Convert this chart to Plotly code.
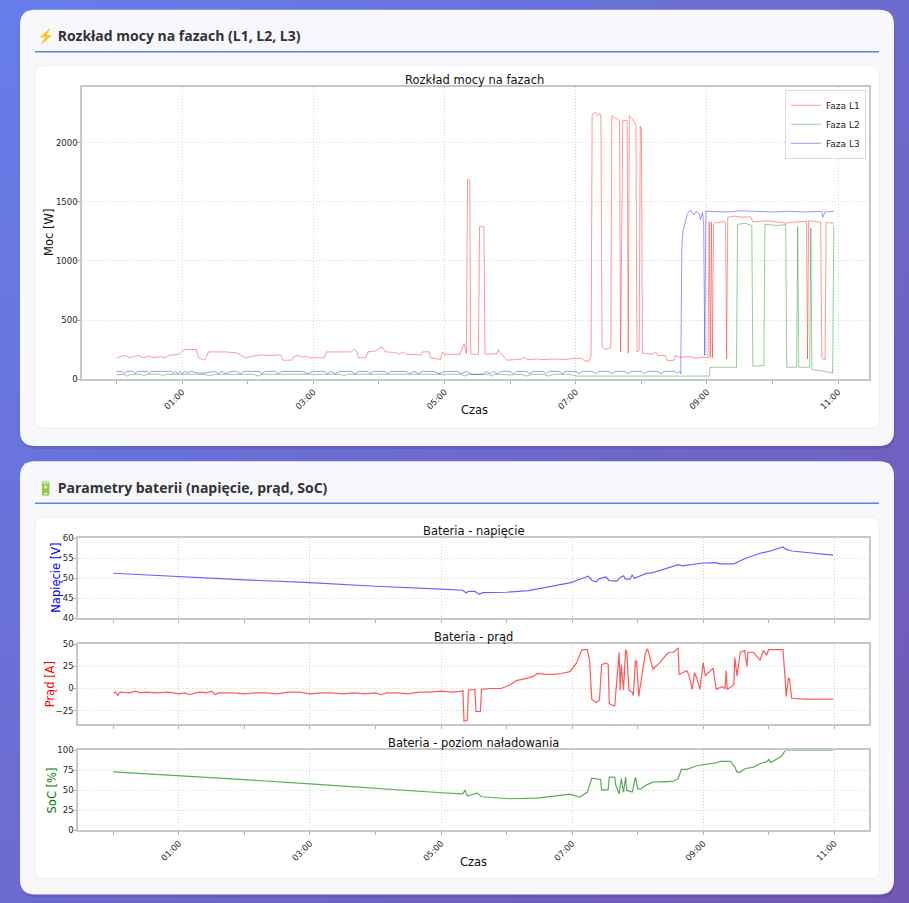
import plotly.graph_objects as go

W, H = 909, 903
DAY = "2024-01-01 "

# --- phase power (W) ---
l1_time = ["00:00", "00:08", "00:12", "00:20", "00:24", "00:30", "00:34", "00:40", "00:44", "00:48",
           "00:57", "01:02", "01:13", "01:15", "01:20", "01:22", "01:24", "01:40", "01:50", "01:58",
           "02:11", "02:20", "02:30", "02:32", "02:40", "02:42", "02:46", "02:50", "02:54", "02:56",
           "03:10", "03:12", "03:35", "03:37", "03:40", "03:41", "03:48", "03:50", "03:58", "04:00",
           "04:03", "04:06", "04:15", "04:18", "04:22", "04:25", "04:38", "04:40", "04:46", "04:47",
           "04:54", "04:56", "04:58", "05:00", "05:14", "05:16", "05:18", "05:20", "05:21", "05:23",
           "05:24", "05:31", "05:32", "05:36", "05:37", "05:48", "05:49", "05:52", "05:57", "06:05",
           "06:10", "06:13", "06:16", "06:25", "06:30", "06:40", "06:50", "06:58", "07:05", "07:08",
           "07:12", "07:14", "07:15", "07:18", "07:20", "07:22", "07:23", "07:24", "07:27", "07:30",
           "07:32", "07:33", "07:36", "07:39", "07:40", "07:41", "07:43", "07:47", "07:48", "07:49",
           "07:52", "07:55", "07:56", "07:58", "07:59", "08:00", "08:01", "08:10", "08:13", "08:15",
           "08:22", "08:24", "08:30", "08:31", "08:35", "08:45", "08:50", "08:55", "09:01", "09:02",
           "09:03", "09:04", "09:05", "09:06", "09:08", "09:10", "09:15", "09:17", "09:18", "09:19",
           "09:25", "09:32", "09:40", "09:42", "09:55", "10:05", "10:13", "10:20", "10:31", "10:32",
           "10:33", "10:44", "10:45", "10:48", "10:49", "10:56"]
l1_power = [180, 200, 180, 200, 180, 195, 180, 190, 180, 200,
            210, 250, 250, 180, 160, 185, 230, 230, 220, 180,
            205, 200, 205, 160, 160, 190, 200, 185, 195, 180,
            180, 230, 230, 250, 230, 180, 180, 230, 240, 260,
            270, 230, 225, 210, 230, 210, 205, 230, 230, 180,
            170, 160, 230, 210, 210, 250, 300, 215, 1690, 1680,
            210, 210, 1290, 1290, 210, 215, 250, 210, 160, 165,
            170, 185, 165, 170, 165, 170, 165, 175, 175, 155,
            150, 200, 2240, 2260, 2230, 2250, 2220, 270, 250, 260,
            270, 2230, 2210, 2200, 2180, 230, 2190, 2190, 220, 2230,
            2200, 2150, 230, 240, 2140, 2120, 220, 210, 230, 200,
            200, 155, 160, 200, 185, 190, 175, 185, 180, 1330,
            180, 1330, 180, 1310, 1330, 1320, 1335, 1330, 170, 1370,
            1380, 1370, 1375, 1330, 1340, 1330, 1320, 1330, 1335, 170,
            1340, 1330, 180, 160, 1325, 1320]

l2_time = ["00:00", "00:06", "00:10", "00:13", "00:22", "00:25", "00:28", "00:40", "00:42", "00:45",
           "01:20", "01:25", "01:30", "02:05", "02:10", "02:13", "02:40", "03:00", "03:25", "03:28",
           "03:31", "04:30", "05:15", "05:18", "05:22", "05:40", "05:43", "05:46", "06:00", "06:10",
           "06:15", "06:20", "06:30", "06:35", "06:40", "06:55", "07:00", "08:00", "09:02", "09:03",
           "09:27", "09:28", "09:35", "09:41", "09:42", "09:52", "09:53", "10:05", "10:12", "10:13",
           "10:22", "10:23", "10:24", "10:34", "10:35", "10:36", "10:45", "10:55", "10:56"]
l2_power = [35, 40, 25, 40, 40, 25, 40, 40, 25, 40,
            40, 30, 40, 40, 25, 40, 40, 40, 40, 25,
            40, 40, 40, 25, 40, 40, 25, 40, 35, 40,
            25, 40, 40, 25, 40, 40, 25, 25, 25, 100,
            100, 1310, 1320, 1300, 110, 115, 1310, 1300, 1310, 100,
            100, 1290, 100, 100, 1280, 80, 70, 50, 1300]

l3_time = ["00:00", "00:05", "00:07", "00:09", "00:15", "00:17", "00:19", "00:28", "00:30", "00:32",
           "00:50", "00:52", "00:54", "00:56", "00:58", "01:00", "01:03", "01:05", "01:08", "01:15",
           "01:20", "01:30", "01:33", "01:36", "01:40", "01:44", "01:50", "01:53", "01:56", "02:10",
           "02:13", "02:16", "02:25", "02:28", "02:31", "02:50", "02:55", "02:59", "03:10", "03:13",
           "03:16", "03:20", "03:24", "03:35", "03:38", "03:42", "03:50", "03:52", "03:55", "04:05",
           "04:08", "04:11", "04:25", "04:28", "04:32", "04:36", "04:40", "04:50", "04:55", "05:00",
           "05:12", "05:15", "05:20", "05:25", "05:35", "05:38", "05:42", "05:45", "05:48", "05:52",
           "06:00", "06:03", "06:06", "06:15", "06:18", "06:21", "06:30", "06:33", "06:36", "06:45",
           "06:48", "06:51", "07:00", "07:03", "07:06", "07:15", "07:18", "07:21", "07:30", "07:33",
           "07:36", "07:45", "07:48", "07:51", "08:00", "08:03", "08:06", "08:15", "08:18", "08:21",
           "08:30", "08:33", "08:35", "08:36", "08:37", "08:38", "08:40", "08:42", "08:45", "08:48",
           "08:50", "08:53", "08:54", "08:56", "08:57", "08:58", "08:59", "09:10", "09:20", "09:30",
           "09:45", "10:00", "10:15", "10:30", "10:45", "10:46", "10:48", "10:56"]
l3_power = [65, 65, 45, 65, 65, 45, 65, 65, 45, 65,
            65, 45, 65, 45, 65, 45, 65, 50, 65, 50,
            50, 65, 45, 65, 45, 65, 65, 45, 65, 65,
            45, 65, 65, 45, 65, 65, 45, 65, 65, 45,
            65, 45, 65, 65, 45, 65, 65, 45, 65, 65,
            45, 65, 65, 45, 65, 45, 65, 65, 45, 65,
            65, 45, 65, 40, 40, 65, 45, 65, 45, 65,
            65, 45, 65, 65, 45, 65, 65, 45, 65, 65,
            45, 65, 65, 45, 65, 65, 45, 65, 65, 45,
            65, 65, 45, 65, 65, 45, 65, 65, 45, 65,
            65, 50, 65, 45, 1100, 1250, 1320, 1400, 1430, 1390,
            1420, 1400, 1350, 1410, 1300, 200, 1420, 1420, 1415, 1425,
            1420, 1415, 1420, 1415, 1420, 1370, 1415, 1420]

# --- battery ---
volt_time = ["00:00", "01:00", "02:00", "03:00", "04:00", "05:00", "05:20", "05:23", "05:25", "05:31",
             "05:35", "05:38", "06:00", "06:20", "06:37", "06:59", "07:07", "07:15", "07:18", "07:22",
             "07:25", "07:31", "07:34", "07:41", "07:44", "07:47", "07:49", "07:53", "07:55", "07:57",
             "08:08", "08:14", "08:20", "08:37", "08:41", "08:46", "09:00", "09:12", "09:15", "09:28",
             "09:34", "09:39", "09:52", "10:01", "10:13", "10:16", "10:21", "10:59"]
volt_value = [51.25, 50.4, 49.6, 48.9, 48.0, 47.3, 47.0, 46.3, 46.75, 46.7,
              46.0, 46.4, 46.5, 46.9, 47.8, 48.9, 49.75, 50.5, 49.5, 49.1,
              49.9, 50.3, 49.4, 49.3, 50.2, 50.6, 49.8, 49.8, 50.8, 50.0,
              51.2, 51.4, 51.9, 53.4, 53.1, 53.3, 53.8, 53.9, 53.6, 53.6,
              54.3, 55.0, 56.25, 56.75, 57.8, 57.2, 56.8, 55.75]

curr_time = ["00:00", "00:02", "00:04", "00:06", "00:15", "00:20", "00:25", "00:30", "00:40", "00:50",
             "01:00", "01:05", "01:10", "01:15", "01:20", "01:25", "01:30", "01:33", "01:36", "01:50",
             "02:00", "02:10", "02:20", "02:30", "02:40", "02:50", "03:00", "03:10", "03:20", "03:30",
             "03:40", "03:50", "04:00", "04:05", "04:10", "04:20", "04:30", "04:40", "04:50", "05:00",
             "05:10", "05:19", "05:20", "05:21", "05:24", "05:25", "05:31", "05:32", "05:36", "05:37",
             "05:45", "05:55", "06:03", "06:09", "06:20", "06:25", "06:28", "06:35", "06:43", "06:50",
             "06:58", "07:04", "07:09", "07:14", "07:16", "07:18", "07:22", "07:25", "07:27", "07:31",
             "07:33", "07:34", "07:39", "07:40", "07:43", "07:44", "07:45", "07:47", "07:49", "07:50",
             "07:52", "07:55", "07:56", "07:58", "07:59", "08:01", "08:05", "08:07", "08:09", "08:13",
             "08:14", "08:20", "08:26", "08:29", "08:33", "08:37", "08:38", "08:45", "08:47", "08:50",
             "08:52", "08:54", "08:57", "09:00", "09:02", "09:04", "09:09", "09:12", "09:17", "09:20",
             "09:21", "09:22", "09:28", "09:29", "09:31", "09:34", "09:38", "09:40", "09:41", "09:46",
             "09:52", "09:55", "09:58", "10:00", "10:13", "10:15", "10:16", "10:18", "10:19", "10:21",
             "10:32", "10:45", "10:59"]
curr_value = [-5, -4, -8, -4, -5, -3, -5, -4, -5, -4,
              -6, -5, -7, -5, -4, -5, -3, -7, -5, -5,
              -6, -5, -5, -6, -4, -4, -6, -5, -5, -6,
              -5, -6, -5, -7, -5, -5, -6, -4, -4, -3,
              -4, -3, -2, -37, -36, -2, -1, -26, -26, -1,
              0, 0, 4, 9, 12, 14, 17, 16, 16, 17,
              19, 29, 44, 44, 31, -12, -16, -13, 27, 29,
              27, -17, -20, -6, 41, -2, 27, -2, 44, 41,
              -2, -4, -8, 32, 30, -9, 21, 40, 45, 27,
              22, 29, 38, 41, 41, 46, 16, 20, 15, -1,
              18, 12, -1, 29, 14, 17, 23, -1, 2, 0,
              20, -1, 4, 35, 14, 41, 43, 25, 41, 41,
              32, 43, 38, 44, 44, 12, -9, 12, 11, -11,
              -12, -12, -12]

soc_time = ["00:00", "00:30", "01:00", "02:00", "03:00", "04:00", "04:13", "04:41", "05:00", "05:20",
            "05:22", "05:24", "05:33", "05:37", "06:03", "06:28", "06:43", "06:58", "07:07", "07:14",
            "07:18", "07:26", "07:27", "07:33", "07:34", "07:39", "07:40", "07:43", "07:45", "07:47",
            "07:49", "07:50", "07:55", "07:58", "08:00", "08:03", "08:08", "08:14", "08:32", "08:37",
            "08:40", "08:45", "08:54", "09:10", "09:16", "09:25", "09:29", "09:31", "09:34", "09:38",
            "09:46", "09:52", "09:58", "10:00", "10:02", "10:12", "10:15", "10:59"]
soc_value = [73.3, 71, 68.75, 63.5, 58.3, 52.5, 50.8, 48.3, 47.1, 45.8,
             50.4, 43.0, 46.7, 42.1, 39.6, 40.4, 42.9, 45.4, 41.7, 47.9,
             65.4, 63.75, 50.8, 50.8, 66.7, 66.7, 56.25, 45.8, 64.6, 47.9,
             66.7, 50, 48, 66.7, 52, 52, 57, 60.4, 61.25, 64.6,
             76.25, 76.25, 80.8, 84, 86.25, 86.25, 79.2, 72.9, 72.9, 77.1,
             79.2, 83.3, 86, 88.75, 85, 92.9, 100, 100]


def ts(times):
    return [DAY + t for t in times]


def px(x):
    return x / W


# the captured page comes out squeezed a little vertically, so pixel rows are mapped back
SY, OY = 0.988, 5.3


def py(y):
    return 1 - ((y - OY) / SY) / H


def rounded(x0, y0, x1, y1, r):
    pts = [("M", x0 + r, y0), ("L", x1 - r, y0), ("Q", x1, y0, x1, y0 + r), ("L", x1, y1 - r),
           ("Q", x1, y1, x1 - r, y1), ("L", x0 + r, y1), ("Q", x0, y1, x0, y1 - r),
           ("L", x0, y0 + r), ("Q", x0, y0, x0 + r, y0)]
    out = ""
    for p in pts:
        coords = p[1:]
        s = " ".join(f"{px(coords[i]):.5f},{py(coords[i + 1]):.5f}" for i in range(0, len(coords), 2))
        out += f"{p[0]} {s} "
    return out + "Z"


shapes = []
# page background: 135deg gradient #667eea -> #764ba2, tiled
c0, c1 = (102, 126, 234), (118, 75, 162)
tile = 30
for ty in range(-30, H + 30, tile):
    for tx in range(0, W, tile):
        t = min(max((tx + ty + tile) / 2400, 0), 1)
        col = "rgb({},{},{})".format(*[round(c0[i] + (c1[i] - c0[i]) * t) for i in range(3)])
        shapes.append(dict(type="rect", xref="paper", yref="paper",
                           x0=px(tx), x1=px(min(tx + tile + 1, W)), y0=py(ty + tile + 1), y1=py(ty),
                           fillcolor=col, line=dict(width=0), layer="below"))

for top, bottom, panel_top, panel_bottom, rule in [(10, 446, 66, 428, 52), (461, 894, 517, 878, 503)]:
    shapes.append(dict(type="path", xref="paper", yref="paper", path=rounded(21, top + 3, 895, bottom + 3, 15),
                       fillcolor="rgba(40,20,90,0.12)", line=dict(width=0), layer="below"))
    shapes.append(dict(type="path", xref="paper", yref="paper", path=rounded(20, top, 894, bottom, 15),
                       fillcolor="rgb(247,247,252)", line=dict(width=0), layer="below"))
    shapes.append(dict(type="line", xref="paper", yref="paper", x0=px(35), x1=px(879), y0=py(rule), y1=py(rule),
                       line=dict(color="#667eea", width=1.5), layer="below"))
    shapes.append(dict(type="path", xref="paper", yref="paper", path=rounded(35, panel_top, 879, panel_bottom, 8),
                       fillcolor="white", line=dict(color="rgba(0,0,0,0.05)", width=1), layer="below"))

fig = go.Figure()

fig.add_trace(go.Scatter(x=ts(l1_time), y=l1_power, name="Faza L1", mode="lines",
                         line=dict(color="rgba(255,0,0,0.4)", width=1), xaxis="x", yaxis="y"))
fig.add_trace(go.Scatter(x=ts(l2_time), y=l2_power, name="Faza L2", mode="lines",
                         line=dict(color="rgba(0,128,0,0.4)", width=1), xaxis="x", yaxis="y"))
fig.add_trace(go.Scatter(x=ts(l3_time), y=l3_power, name="Faza L3", mode="lines",
                         line=dict(color="rgba(0,0,255,0.4)", width=1), xaxis="x", yaxis="y"))

fig.add_trace(go.Scatter(x=ts(volt_time), y=volt_value, mode="lines", showlegend=False,
                         line=dict(color="rgba(0,0,255,0.6)", width=1.2), xaxis="x2", yaxis="y2"))
fig.add_trace(go.Scatter(x=ts(curr_time), y=curr_value, mode="lines", showlegend=False,
                         line=dict(color="rgba(255,0,0,0.65)", width=1.2), xaxis="x3", yaxis="y3"))
fig.add_trace(go.Scatter(x=ts(soc_time), y=soc_value, mode="lines", showlegend=False,
                         line=dict(color="rgba(0,128,0,0.65)", width=1.2), xaxis="x4", yaxis="y4"))

MPL = "DejaVu Sans"
frame = dict(showline=True, linecolor="#c8c8c8", linewidth=1.5, mirror=True, ticks="outside",
             ticklen=3, tickcolor="#b0b0b0", tickfont=dict(family=MPL, size=8.5, color="#262626"),
             showgrid=True, gridcolor="#d4d4d4", griddash="1px,2px", gridwidth=1, zeroline=False)
HOUR = 3600 * 1000


def time_axis(domain_left, rng, labels):
    return dict(frame, type="date", domain=[px(domain_left), px(869)], range=rng,
                tickformat="%H:%M", tick0=DAY + "01:00", dtick=2 * HOUR, tickangle=-45,
                showticklabels=labels,
                minor=dict(tick0=DAY + "00:00", dtick=HOUR, ticks="outside", ticklen=3,
                           tickcolor="#b0b0b0", showgrid=False))


def value_axis(top, bottom, rng, **kw):
    return dict(frame, domain=[py(bottom), py(top)], range=rng, ticklabelstandoff=-2, **kw)


top_range = ["2023-12-31 23:28:23", DAY + "11:28:12"]
bat_range = ["2023-12-31 23:27:36", DAY + "11:31:48"]

fig.update_layout(
    width=W, height=H, margin=dict(l=0, r=0, t=0, b=0),
    paper_bgcolor="#6c6cd0", plot_bgcolor="white",
    shapes=shapes,
    xaxis=dict(time_axis(82, top_range, True), anchor="y"),
    yaxis=dict(value_axis(87, 379, [0, 2475], dtick=500), anchor="x"),
    xaxis2=dict(time_axis(78, bat_range, False), anchor="y2"),
    yaxis2=dict(value_axis(538, 618, [40, 60], dtick=5), anchor="x2"),
    xaxis3=dict(time_axis(78, bat_range, False), anchor="y3"),
    yaxis3=dict(value_axis(644, 723.5, [-40, 50], tickvals=[-25, 0, 25, 50]), anchor="x3"),
    xaxis4=dict(time_axis(78, bat_range, True), anchor="y4"),
    yaxis4=dict(value_axis(750, 830, [0, 100], dtick=25), anchor="x4"),
    legend=dict(x=px(866), y=py(90), xanchor="right", yanchor="top", bgcolor="rgba(255,255,255,0.85)",
                bordercolor="#dcdcdc", borderwidth=1, font=dict(family=MPL, size=9, color="#262626"),
                itemwidth=30, tracegroupgap=0),
    showlegend=True,
)

head = dict(family="Open Sans", size=14, color="#333333", weight="bold")
label = dict(family=MPL, size=11.5, color="#111")
notes = [
    dict(text="⚡ Rozkład mocy na fazach (L1, L2, L3)", x=px(35), y=py(36), xanchor="left", font=head),
    dict(text="🔋 Parametry baterii (napięcie, prąd, SoC)", x=px(35), y=py(487), xanchor="left", font=head),
    dict(text="Rozkład mocy na fazach", x=px(475), y=py(80), font=label),
    dict(text="Czas", x=px(475), y=py(410), font=label),
    dict(text="Moc [W]", x=px(49), y=py(233), textangle=-90, font=label),
    dict(text="Bateria - napięcie", x=px(473), y=py(531), font=label),
    dict(text="Bateria - prąd", x=px(473), y=py(637), font=label),
    dict(text="Bateria - poziom naładowania", x=px(473), y=py(743), font=label),
    dict(text="Czas", x=px(473), y=py(861), font=label),
    dict(text="Napięcie [V]", x=px(56.5), y=py(578), textangle=-90, font=dict(label, color="blue")),
    dict(text="Prąd [A]", x=px(50), y=py(684), textangle=-90, font=dict(label, color="red")),
    dict(text="SoC [%]", x=px(52), y=py(790), textangle=-90, font=dict(label, color="green")),
]
for n in notes:
    n.setdefault("xanchor", "center")
    fig.add_annotation(dict(xref="paper", yref="paper", showarrow=False, yanchor="middle", **n))

# drop the page margin so the 909x903 figure fills the window exactly
page_css = ("var s=document.createElement('style');"
            "s.innerHTML='html,body{margin:0;padding:0;overflow:hidden;height:903px;}';"
            "document.head.appendChild(s);")
fig.write_html("out.html", post_script=page_css, config={"displayModeBar": False})
